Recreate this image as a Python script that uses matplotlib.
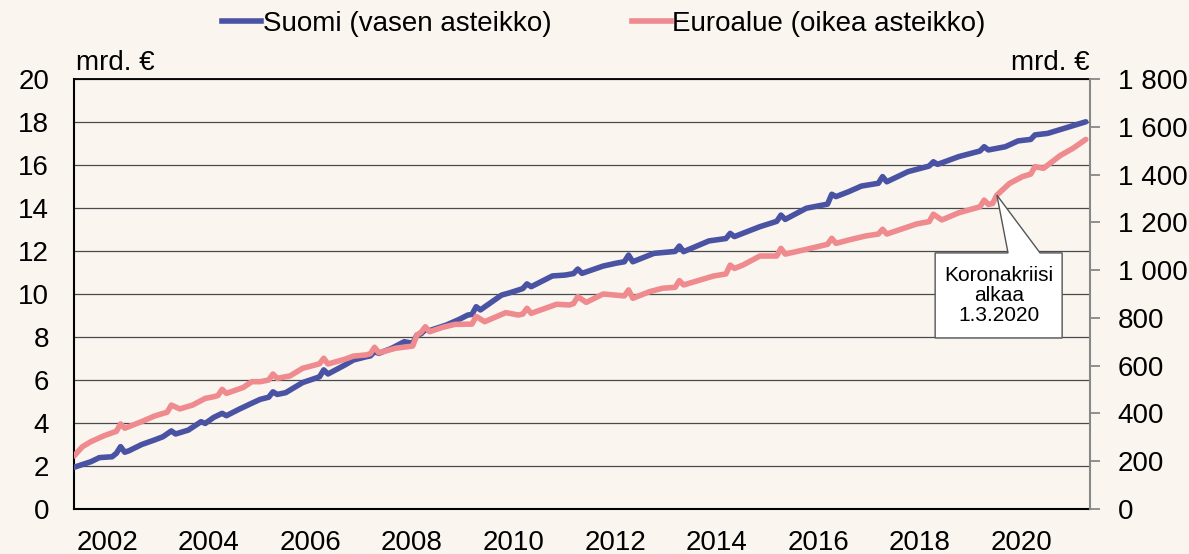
import matplotlib
matplotlib.use("Agg")
import matplotlib.pyplot as plt
from matplotlib.patches import Polygon
from matplotlib.lines import Line2D
from matplotlib.ticker import FuncFormatter

plt.rcParams['font.family'] = ['Liberation Sans', 'DejaVu Sans']

# ---------------- data ----------------
fi_dates = ["2002-01","2002-05","2002-07","2002-10","2002-11","2002-12",
            "2003-01","2003-02","2003-05","2003-08","2003-10","2003-12",
            "2004-01","2004-04","2004-07","2004-08","2004-10","2004-12",
            "2005-01","2005-04","2005-07","2005-09","2005-11","2005-12",
            "2006-01","2006-03","2006-07","2006-10","2006-11","2006-12",
            "2007-01","2007-05","2007-07","2007-10","2007-11","2007-12",
            "2008-01","2008-04","2008-07","2008-09","2008-10","2008-11","2008-12",
            "2009-01","2009-05","2009-08","2009-10","2009-11","2009-12",
            "2010-01","2010-06","2010-08","2010-11","2010-12",
            "2011-01","2011-06","2011-09","2011-11","2011-12",
            "2012-01","2012-06","2012-09","2012-11","2012-12",
            "2013-01","2013-06","2013-11","2013-12",
            "2014-01","2014-07","2014-11","2014-12",
            "2015-01","2015-07","2015-11","2015-12",
            "2016-01","2016-06","2016-11","2016-12",
            "2017-01","2017-04","2017-07","2017-11","2017-12",
            "2018-01","2018-06","2018-11","2018-12",
            "2019-01","2019-06","2019-11","2019-12",
            "2020-01","2020-05","2020-08","2020-11","2020-12",
            "2021-03","2021-07","2021-12"]
fi_values = [1.94,2.20,2.39,2.43,2.59,2.90,
             2.64,2.71,3.00,3.21,3.36,3.63,
             3.49,3.67,4.06,3.98,4.26,4.45,
             4.34,4.64,4.92,5.10,5.20,5.45,
             5.33,5.41,5.88,6.08,6.15,6.47,
             6.28,6.70,6.93,7.08,7.12,7.32,
             7.24,7.47,7.78,7.71,8.09,8.15,8.35,
             8.30,8.56,8.82,9.02,9.05,9.41,
             9.26,9.95,10.06,10.25,10.47,
             10.34,10.84,10.88,10.95,11.16,
             10.96,11.30,11.43,11.50,11.81,
             11.50,11.89,11.98,12.23,
             11.97,12.47,12.58,12.82,
             12.67,13.13,13.38,13.67,
             13.47,13.99,14.18,14.64,
             14.53,14.76,15.02,15.15,15.46,
             15.22,15.69,15.95,16.15,
             16.03,16.39,16.65,16.85,
             16.70,16.85,17.12,17.19,17.40,
             17.47,17.71,18.01]

ea_dates = ["2002-01","2002-03","2002-05","2002-08","2002-10","2002-11","2002-12",
            "2003-01","2003-05","2003-08","2003-10","2003-11","2003-12",
            "2004-02","2004-05","2004-08","2004-10","2004-11","2004-12",
            "2005-01","2005-05","2005-07","2005-09","2005-11","2005-12",
            "2006-01","2006-04","2006-07","2006-10","2006-11","2006-12",
            "2007-01","2007-05","2007-07","2007-10","2007-11","2007-12",
            "2008-01","2008-05","2008-09","2008-10","2008-11","2008-12",
            "2009-01","2009-04","2009-07","2009-11","2009-12",
            "2010-02","2010-07","2010-10","2010-11","2010-12",
            "2011-01","2011-07","2011-10","2011-11","2011-12",
            "2012-02","2012-06","2012-11","2012-12",
            "2013-01","2013-05","2013-08","2013-11","2013-12",
            "2014-01","2014-08","2014-11","2014-12",
            "2015-01","2015-03","2015-07","2015-11","2015-12",
            "2016-01","2016-06","2016-11","2016-12",
            "2017-01","2017-04","2017-08","2017-11","2017-12",
            "2018-01","2018-08","2018-11","2018-12",
            "2019-02","2019-06","2019-11","2019-12",
            "2020-01","2020-02","2020-03","2020-06","2020-09","2020-11","2020-12",
            "2021-02","2021-06","2021-09","2021-12"]
ea_values = [222,261,282,306,319,325,356,
             338,366,389,400,405,435,
             419,435,463,470,475,501,
             484,509,533,533,540,565,
             547,557,589,603,608,631,
             607,627,640,645,650,677,
             654,673,682,728,740,763,
             742,760,773,774,806,
             784,822,812,816,840,
             819,857,854,860,889,
             865,900,892,917,
             882,910,924,928,956,
             938,975,984,1021,
             1007,1021,1059,1059,1091,
             1067,1087,1108,1133,
             1112,1126,1143,1151,1171,
             1151,1193,1203,1234,
             1210,1240,1265,1293,
             1275,1279,1314,1363,1391,1402,1433,
             1426,1480,1510,1547]

year_labels = [2002, 2004, 2006, 2008, 2010, 2012, 2014, 2016, 2018, 2020]
left_ticks = [0, 2, 4, 6, 8, 10, 12, 14, 16, 18, 20]
right_ticks = [0, 200, 400, 600, 800, 1000, 1200, 1400, 1600, 1800]

series_names = ["Suomi (vasen asteikko)", "Euroalue (oikea asteikko)"]
annot_date = "2020-03"
annot_text = "Koronakriisi\nalkaa\n1.3.2020"


def to_year(s):
    y, m = s.split("-")
    return int(y) + (int(m) - 1) / 12.0


fi_x = [to_year(d) for d in fi_dates]
ea_x = [to_year(d) for d in ea_dates]

# ---------------- styling ----------------
BG = "#FAF5EF"
BLUE = "#4A53A3"
PINK = "#EF8A8F"
FS = 20
LW = 4.0

fig = plt.figure(figsize=(11.89, 5.54), dpi=100, facecolor=BG)
ax = fig.add_axes([74 / 1189, 45 / 554, 1016 / 1189, 430 / 554])
ax.set_facecolor(BG)
ax2 = ax.twinx()

ax.plot(fi_x, fi_values, color=BLUE, lw=LW, solid_joinstyle='round',
        solid_capstyle='round', zorder=3)
ax2.plot(ea_x, ea_values, color=PINK, lw=LW, solid_joinstyle='round',
         solid_capstyle='round', zorder=3)

ax.set_xlim(2002.0, 2022.0)
ax.set_ylim(0, 20)
ax2.set_ylim(0, 1800)

ax.set_yticks(left_ticks)
ax.set_yticklabels([str(v) for v in left_ticks])
ax.tick_params(axis='y', length=0, pad=18, labelsize=FS)
ax.yaxis.grid(True, color="#4a4a4a", lw=0.9)
ax.set_axisbelow(True)

ax.set_xticks([y + 0.65 for y in year_labels])
ax.set_xticklabels([str(y) for y in year_labels])
ax.tick_params(axis='x', length=0, pad=15, labelsize=FS)

ax2.set_yticks(right_ticks)
ax2.yaxis.set_major_formatter(FuncFormatter(lambda v, p: f"{int(v):,}".replace(",", " ")))
ax2.tick_params(axis='y', length=7, width=1.3, color="#888888", pad=13, labelsize=FS)

for a in (ax, ax2):
    for s in a.spines.values():
        s.set_visible(False)
ax.spines['left'].set_visible(True)
ax.spines['left'].set_color('black')
ax.spines['left'].set_linewidth(1.5)
ax.spines['bottom'].set_visible(True)
ax.spines['bottom'].set_color('black')
ax.spines['bottom'].set_linewidth(1.5)
ax.spines['top'].set_visible(True)
ax.spines['top'].set_color('black')
ax.spines['top'].set_linewidth(1.3)
ax2.spines['right'].set_visible(True)
ax2.spines['right'].set_color('#888888')
ax2.spines['right'].set_linewidth(1.5)

# unit labels
fig.text(76 / 1189, 1 - 63 / 554, "mrd. €", fontsize=FS, ha='left', va='center')
fig.text(1090 / 1189, 1 - 63 / 554, "mrd. €", fontsize=FS, ha='right', va='center')

# legend
handles = [Line2D([], [], color=BLUE, lw=LW), Line2D([], [], color=PINK, lw=LW)]
fig.legend(handles, series_names, loc='center', bbox_to_anchor=(604 / 1189, 1 - 24 / 554),
           ncol=2, frameon=False, fontsize=FS, handlelength=1.4, handletextpad=0.05,
           columnspacing=2.9)

# callout annotation
tip_x = to_year(annot_date)
tip_y = ea_values[ea_dates.index(annot_date)]
bx0, bx1 = tip_x - 1.215, tip_x + 1.285
by0, by1 = 716, 1072
tl, tr = tip_x + 0.22, tip_x + 0.85
poly = Polygon([(bx0, by0), (bx1, by0), (bx1, by1), (tr, by1), (tip_x, tip_y),
                (tl, by1), (bx0, by1)], closed=True, facecolor='white',
               edgecolor='#555555', lw=1.0, zorder=5)
ax2.add_patch(poly)
ax2.text((bx0 + bx1) / 2, (by0 + by1) / 2, annot_text, ha='center', va='center',
         fontsize=15, linespacing=1.05, zorder=6)

fig.savefig("out.png", dpi=100, facecolor=BG)
